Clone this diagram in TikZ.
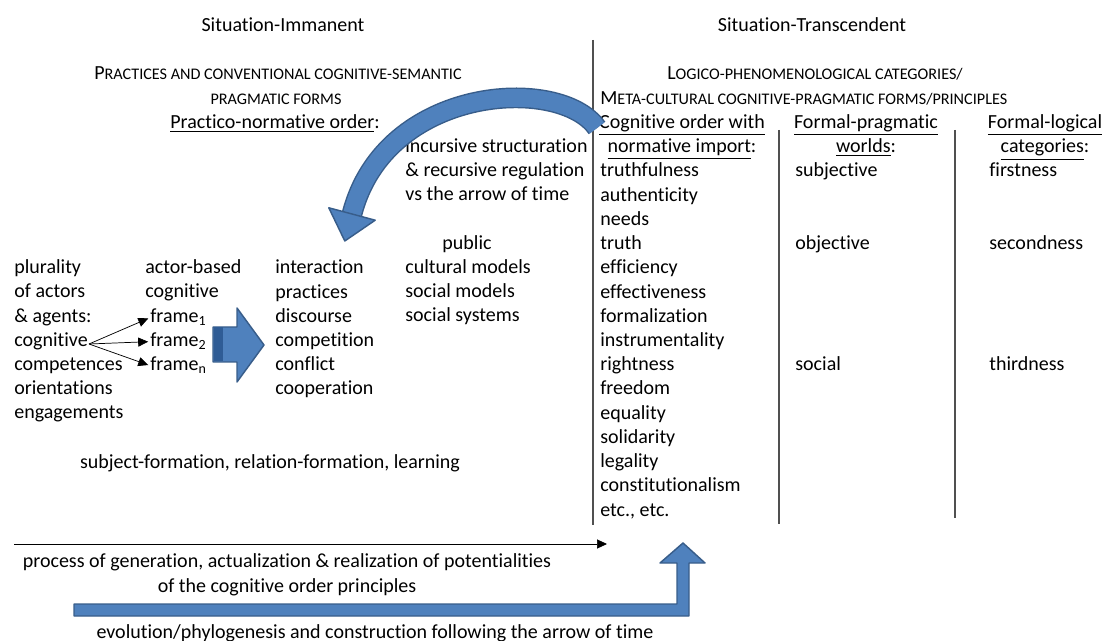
\documentclass[tikz,border=0pt]{standalone}
\usepackage{fontspec}
\setmainfont{Carlito}[Ligatures={TeX,NoCommon,NoContextual},Contextuals=NoAlternate]
\usepackage{xcolor}
\usepackage{tikz}
\usetikzlibrary{arrows.meta,positioning}

\definecolor{arrowblue}{HTML}{4F81BD}
\definecolor{arrowedge}{HTML}{385D8A}
\definecolor{arrowdark}{HTML}{2F5C95}
\definecolor{rulegrey}{HTML}{505050}
\newcommand{\fakesc}[2]{#1{\fontsize{8.9}{10}\selectfont #2}}

\begin{document}
\begin{tikzpicture}[x=0.55pt, y=-0.55pt,
    every node/.style={inner sep=0pt, font=\fontsize{11}{13.32}\selectfont},
    txt/.style={anchor=base west, align=left},
    ctr/.style={anchor=base, align=center},
    rulelin/.style={draw=rulegrey, line width=0.6pt},
    blockarr/.style={fill=arrowblue, draw=arrowedge, line width=0.8pt, line join=round}]
    \useasboundingbox (0,0) rectangle (1104,641);

    % headings (multi-line nodes sit on the baseline of their last line)
    \node (immanent) [ctr] at (283,32) {Situation-Immanent};
    \node (transcend) [ctr] at (812,32) {Situation-Transcendent};
    \node (practices) [ctr] at (278,80) {\fakesc{P}{RACTICES AND CONVENTIONAL COGNITIVE-SEMANTIC}};
    \node (pragforms) [ctr] at (276,105) {\fakesc{}{PRAGMATIC FORMS}};
    \node (pracorder) [ctr] at (275,129) {\underline{Practico-normative order}:};
    \node (logico) [ctr] at (815,80) {\fakesc{L}{OGICO-PHENOMENOLOGICAL CATEGORIES/}};
    \node (meta) [txt] at (600,105) {\fakesc{M}{ETA-CULTURAL COGNITIVE-PRAGMATIC FORMS/PRINCIPLES}};

    % column heads
    \node (coghead) [ctr] at (682,153) {\underline{Cognitive order with}\\\underline{normative import}:};
    \node (fphead) [ctr] at (866,153) {\underline{Formal-pragmatic}\\\underline{worlds}:};
    \node (flhead) [ctr] at (1045,153) {\underline{Formal-logical}\\\underline{categories}:};

    % separating rules
    \draw [rulelin] (593,40) -- (593,525);
    \draw [rulelin] (779,130) -- (779,524);
    \draw [rulelin] (955,130) -- (955,518);

    % cognitive order list
    \node (coglist) [txt] at (600,516) {truthfulness\\authenticity\\needs\\truth\\efficiency\\effectiveness\\formalization\\instrumentality\\rightness\\freedom\\equality\\solidarity\\legality\\constitutionalism\\etc., etc.};
    \node (subjective) [txt] at (795,177) {subjective};
    \node (objective) [txt] at (795,250) {objective};
    \node (social) [txt] at (795,371) {social};
    \node (firstness) [txt] at (989,177) {firstness};
    \node (secondness) [txt] at (989,250) {secondness};
    \node (thirdness) [txt] at (989,371) {thirdness};

    % situation-immanent columns
    \node (incursive) [txt] at (405,201) {incursive structuration\\\& recursive regulation\\vs the arrow of time};
    \node (public) [ctr] at (467,250) {public};
    \node (models) [txt] at (405,322) {cultural models\\social models\\social systems};
    \node (actors) [txt] at (14,419) {plurality\\of actors\\\& agents:\\cognitive\\competences\\orientations\\engagements};
    \node (actorbased) [txt] at (145,298) {actor-based\\cognitive};
    \node (frame1) [txt] at (150,323) {frame\textsubscript{1}};
    \node (frame2) [txt] at (150,347) {frame\textsubscript{2}};
    \node (framen) [txt] at (150,371) {frame\textsubscript{n}};
    \node (interaction) [txt] at (275,395) {interaction\\practices\\discourse\\competition\\conflict\\cooperation};
    \node (formation) [ctr] at (270,468) {subject-formation, relation-formation, learning};

    \coordinate (fork) at (89,344);
    \draw [-{Triangle[length=5.5pt,width=5pt]}, shorten >=1pt] (fork) -- (frame1.west);
    \draw [-{Triangle[length=5.5pt,width=5pt]}, shorten >=1pt] (fork) -- (frame2.west);
    \draw [-{Triangle[length=5.5pt,width=5pt]}, shorten >=1pt] (fork) -- (framen.west);

    % block arrow towards interaction
    \draw [blockarr] (213,327) -- (237,327) -- (237,308) -- (264,345) -- (237,382) -- (237,362) -- (213,362) -- cycle;
    \fill [arrowdark] (213.5,327.5) rectangle (223,361.5);

    % curved arrow back into the practices
    \draw [arrowedge, line width=11.4pt] (597,128) .. controls (560,75) and (385,85) .. (352,214);
    \draw [arrowblue, line width=9.8pt] (597,128) .. controls (560,75) and (385,85) .. (352,214);
    \draw [blockarr] (328.8,207.8) -- (344.8,241) -- (375.2,220.2) -- cycle;

    % bottom
    \coordinate (procstart) at (14,544);
    \coordinate (procend) at (607,544);
    \draw [-{Triangle[length=5.5pt,width=5pt]}] (procstart) -- (procend);
    \node (process) [ctr] at (287,592) {process of generation, actualization \& realization of potentialities\\of the cognitive order principles};
    \draw [blockarr] (74,604) -- (677,604) -- (677,563) -- (660,563) -- (683,543)
        -- (705,563) -- (689,563) -- (689,616) -- (74,616) -- cycle;
    \node (evolution) [ctr] at (375,638) {evolution/phylogenesis and construction following the arrow of time};
\end{tikzpicture}
\end{document}
